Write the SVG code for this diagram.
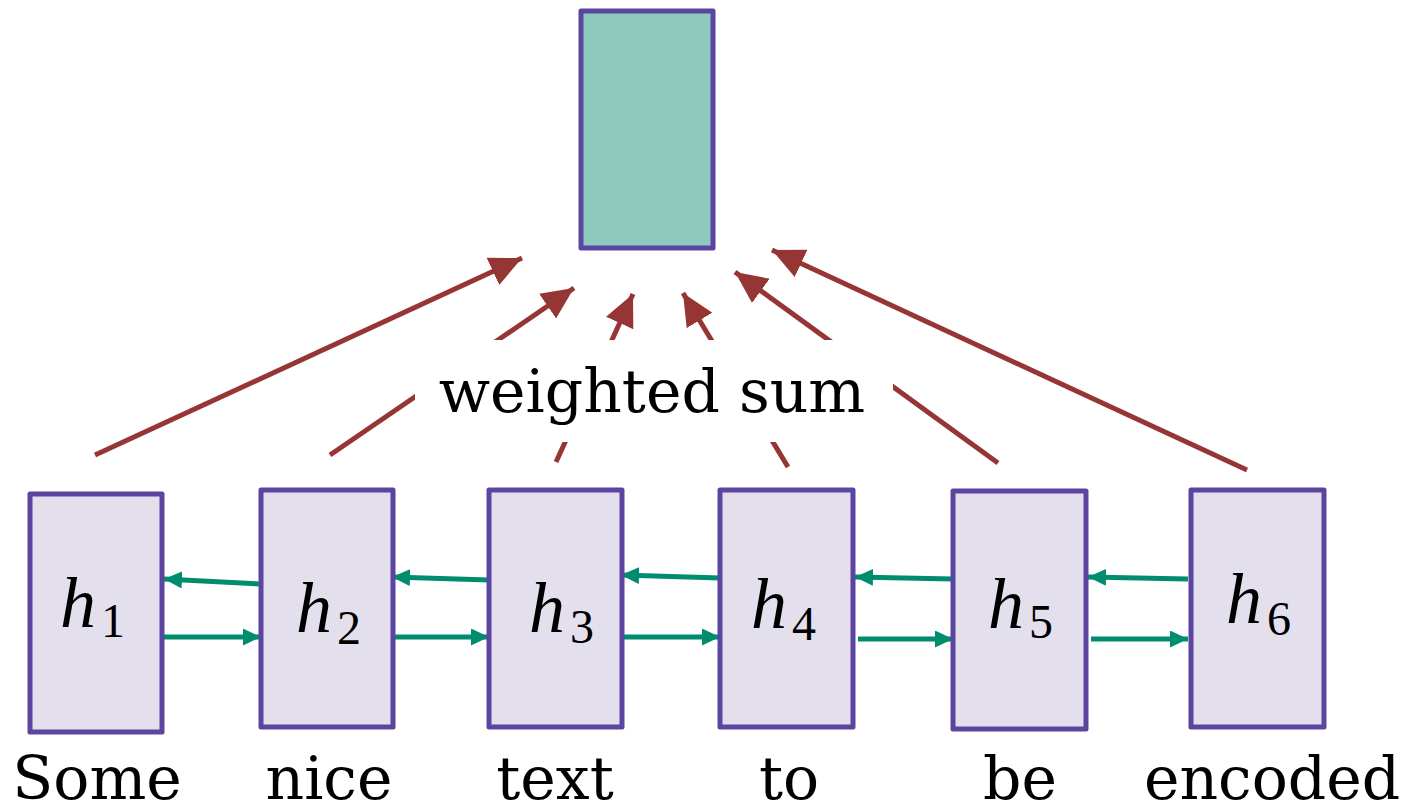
<svg xmlns="http://www.w3.org/2000/svg" width="1413" height="808" viewBox="0 0 1413 808">
<style>
.box{fill:#e4dfec;stroke:#5b45a0;stroke-width:5;stroke-linejoin:round}
.top{fill:#8fcabf;stroke:#5b45a0;stroke-width:5;stroke-linejoin:round}
.red{stroke:#963634;stroke-width:5;fill:none}
.grn{stroke:#008c6e;stroke-width:5;fill:none}
.h{font-family:"Liberation Serif",serif;font-style:italic;font-size:72px;fill:#000}
.sub{font-family:"Liberation Serif",serif;font-style:normal;font-size:48px}
.w{font-family:"DejaVu Serif","Liberation Serif",serif;font-size:60px;fill:#000;text-anchor:middle}
</style>
<defs>
<marker id="ar" markerUnits="userSpaceOnUse" markerWidth="36" markerHeight="32" refX="32" refY="15" orient="auto">
<path d="M0,0 L32,15 L0,30 Z" fill="#963634"/>
</marker>
<marker id="ag" markerUnits="userSpaceOnUse" markerWidth="20" markerHeight="18" refX="18" refY="8.5" orient="auto">
<path d="M0,0 L18,8.5 L0,17 Z" fill="#008c6e"/>
</marker>
</defs>
<g id="connectors">
<line class="red" x1="95" y1="455" x2="522" y2="258" marker-end="url(#ar)"/>
<line class="red" x1="330" y1="455" x2="574" y2="288" marker-end="url(#ar)"/>
<line class="red" x1="556" y1="462" x2="633" y2="294" marker-end="url(#ar)"/>
<line class="red" x1="788" y1="467" x2="683" y2="293" marker-end="url(#ar)"/>
<line class="red" x1="998" y1="463" x2="735" y2="272" marker-end="url(#ar)"/>
<line class="red" x1="1247" y1="470" x2="772" y2="250" marker-end="url(#ar)"/>
<line class="grn" x1="261" y1="584" x2="164" y2="579" marker-end="url(#ag)"/>
<line class="grn" x1="164" y1="637" x2="261" y2="637" marker-end="url(#ag)"/>
<line class="grn" x1="489" y1="580" x2="392" y2="577" marker-end="url(#ag)"/>
<line class="grn" x1="393" y1="637" x2="489" y2="637" marker-end="url(#ag)"/>
<line class="grn" x1="720" y1="578" x2="621" y2="575" marker-end="url(#ag)"/>
<line class="grn" x1="622" y1="637" x2="720" y2="637" marker-end="url(#ag)"/>
<line class="grn" x1="953" y1="579" x2="855" y2="577" marker-end="url(#ag)"/>
<line class="grn" x1="858" y1="639" x2="953" y2="639" marker-end="url(#ag)"/>
<line class="grn" x1="1188" y1="579" x2="1088" y2="577" marker-end="url(#ag)"/>
<line class="grn" x1="1091" y1="639" x2="1188" y2="639" marker-end="url(#ag)"/>
</g>
<g id="label-weighted-sum">
<rect x="415" y="340" width="478" height="102" fill="#ffffff"/>
<text class="w" x="652" y="412">weighted sum</text>
</g>
<g id="context"><rect class="top" x="581" y="11" width="132" height="237"/></g>
<g id="h1"><rect class="box" x="30" y="494" width="132" height="238"/><text class="h" x="60" y="627">h<tspan class="sub" dx="5" dy="10">1</tspan></text></g>
<g id="h2"><rect class="box" x="261" y="490" width="132" height="237"/><text class="h" x="296" y="632">h<tspan class="sub" dx="5" dy="12">2</tspan></text></g>
<g id="h3"><rect class="box" x="489" y="490" width="133" height="237"/><text class="h" x="529" y="632">h<tspan class="sub" dx="5" dy="11">3</tspan></text></g>
<g id="h4"><rect class="box" x="720" y="490" width="133" height="237"/><text class="h" x="751" y="628">h<tspan class="sub" dx="5" dy="12">4</tspan></text></g>
<g id="h5"><rect class="box" x="953" y="491" width="133" height="238"/><text class="h" x="988" y="628">h<tspan class="sub" dx="5" dy="10">5</tspan></text></g>
<g id="h6"><rect class="box" x="1191" y="490" width="133" height="237"/><text class="h" x="1226" y="623">h<tspan class="sub" dx="5" dy="12">6</tspan></text></g>
<g id="words">
<text class="w" x="97" y="799">Some</text>
<text class="w" x="329" y="799">nice</text>
<text class="w" x="555" y="799">text</text>
<text class="w" x="789" y="799">to</text>
<text class="w" x="1020" y="799">be</text>
<text class="w" x="1272" y="799">encoded</text>
</g>
</svg>
